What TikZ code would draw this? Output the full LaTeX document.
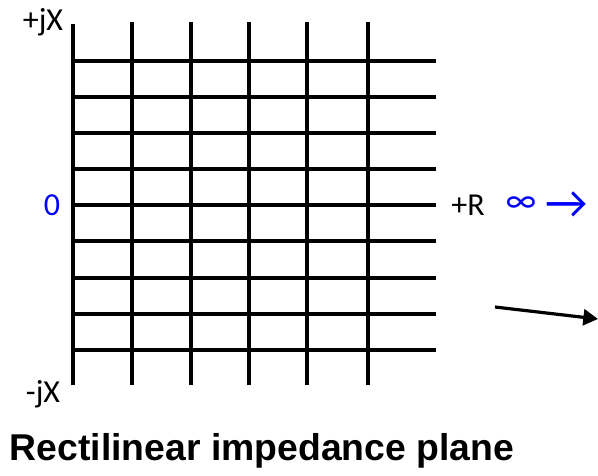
\documentclass[tikz,border=0pt]{standalone}
\usepackage{fontspec}
\setmainfont{Carlito}
\newfontfamily\titlefont{Liberation Sans}
\usepackage{tikz}
\usetikzlibrary{arrows.meta}

\tikzset{
  gridline/.style={line width=3pt},
  axislabel/.style={font=\fontsize{24}{28}\selectfont, inner sep=0pt},
}

\begin{document}
\begin{tikzpicture}[x=0.75pt,y=-0.75pt]
    \useasboundingbox (0,0) rectangle (598,475);

    % Vertical lines
    \draw[gridline] (73,24) -- (73,385);
    \foreach \x in {132,191,249,307,368}
        \draw[gridline] (\x,22) -- (\x,385);

    % Horizontal lines
    \foreach \y in {61,97,133,169,205,241,278,314,350}
        \draw[gridline] (73,\y) -- (436,\y);

    % Axis labels
    \node[axislabel] (posjx) at (43,22) {+jX};
    \node[axislabel] (negjx) at (43,394) {-jX};
    \node[axislabel, blue] (zero) at (52,205) {0};
    \node[axislabel] (plusr) at (468,205) {+R};
    \node[axislabel, blue, font=\fontsize{27}{30}\selectfont] (infty) at (521,205) {∞};
    \node[axislabel, blue, font=\fontsize{35}{38}\selectfont] (toward) at (567,205) {→};

    % Title
    \node[font=\titlefont\bfseries\fontsize{28}{32}\selectfont, inner sep=0pt] (title) at (262,451) {Rectilinear impedance plane};

    % Pointer arrow
    \coordinate (tail) at (495,307);
    \coordinate (tip) at (598,319);
    \draw[-{Triangle[length=11pt,width=12pt]}, line width=2.4pt] (tail) -- (tip);
\end{tikzpicture}
\end{document}
